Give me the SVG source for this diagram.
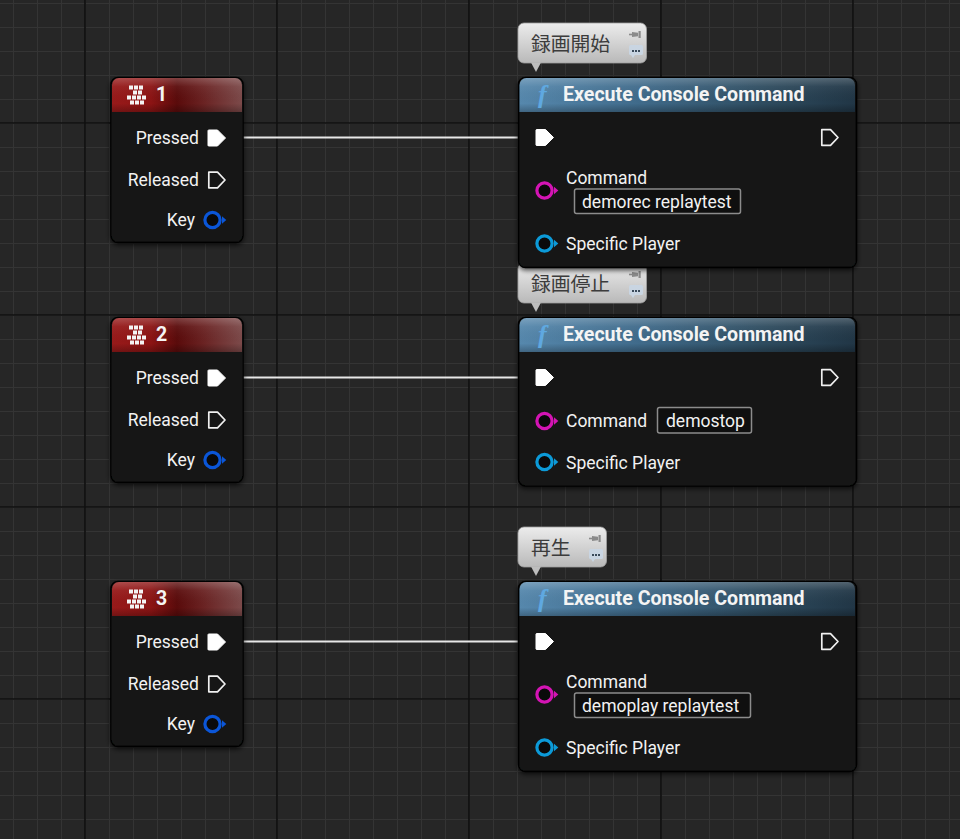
<svg xmlns="http://www.w3.org/2000/svg" xmlns:xlink="http://www.w3.org/1999/xlink" width="960" height="839" viewBox="0 0 960 839">
<style>
.lbl{font-family:Roboto,"Liberation Sans",sans-serif;font-size:17.5px;fill:#f2f2f2}
.ttl{font-family:Roboto,"Liberation Sans",sans-serif;font-size:19.6px;font-weight:bold;fill:#f4f4f4}
.num{font-family:Roboto,"Liberation Sans",sans-serif;font-size:19.5px;font-weight:bold;fill:#f4f4f4}
.cmt{font-family:"Noto Sans CJK JP","Noto Sans",sans-serif;font-size:19.8px;fill:#3c3c3c}
.fic{font-family:"Liberation Serif",serif;font-style:italic;font-weight:bold;font-size:26px;fill:#5fa8e0}
.body{fill:#141615;stroke:#050505;stroke-width:1.5}
.box{fill:#0f0f0f;stroke:#8c8c8c;stroke-width:1.5}
.wire{stroke:#e8e8e8;stroke-width:2;fill:none}
.major{stroke:#101010;stroke-width:1.6}
</style>
<defs>
<pattern id="grid" x="13" y="3" width="24" height="24" patternUnits="userSpaceOnUse">
<rect x="0" y="0" width="24" height="24" fill="#262626"/>
<rect x="0" y="0" width="1" height="24" fill="#343434"/>
<rect x="0" y="0" width="24" height="1" fill="#343434"/>
</pattern>
<linearGradient id="redH" x1="0" y1="0" x2="1" y2="0">
<stop offset="0" stop-color="#981a1a"/>
<stop offset="0.3" stop-color="#8c1414"/>
<stop offset="0.5" stop-color="#5a0b0b"/>
<stop offset="0.7" stop-color="#6a2222"/>
<stop offset="1" stop-color="#7c4a4a"/>
</linearGradient>
<linearGradient id="blueH" x1="0" y1="0" x2="1" y2="0">
<stop offset="0" stop-color="#5688ad"/>
<stop offset="0.35" stop-color="#406b8b"/>
<stop offset="0.75" stop-color="#2d4a5d"/>
<stop offset="1" stop-color="#213646"/>
</linearGradient>
<linearGradient id="gloss" x1="0" y1="0" x2="0" y2="1">
<stop offset="0" stop-color="#ffffff" stop-opacity="0.22"/>
<stop offset="0.25" stop-color="#ffffff" stop-opacity="0.05"/>
<stop offset="0.75" stop-color="#000000" stop-opacity="0"/>
<stop offset="1" stop-color="#000000" stop-opacity="0.25"/>
</linearGradient>
<linearGradient id="cmtG" x1="0" y1="0" x2="0" y2="1">
<stop offset="0" stop-color="#ececec"/>
<stop offset="1" stop-color="#b9b9b9"/>
</linearGradient>
<filter id="sh" x="-10%" y="-10%" width="120%" height="120%">
<feDropShadow dx="0" dy="2" stdDeviation="2.5" flood-color="#000" flood-opacity="0.7"/>
</filter>
<path id="execF" d="M0,-7.5 Q0,-8 1,-8 H9.5 L17.5,0 L9.5,8 H1 Q0,8 0,7.5 Z" fill="#ffffff" stroke="#ffffff" stroke-width="1" stroke-linejoin="round"/>
<path id="execO" d="M0.8,-7.8 H9.5 L17,0 L9.5,7.8 H0.8 Z" fill="none" stroke="#f0f0f0" stroke-width="1.7" stroke-linejoin="round"/>
<g id="dpin">
<circle cx="0" cy="0" r="7.6" fill="#0a0a0a" stroke-width="3.2"/>
<path d="M9.5,-3.8 L13.8,0 L9.5,3.8 Z" stroke="none"/>
</g>
<g id="kicon" fill="#f4f4f4">
<rect x="2" y="0" width="4" height="4"/><rect x="7" y="0" width="4" height="4"/><rect x="12" y="0" width="4" height="4"/>
<rect x="6" y="5" width="4" height="4"/><rect x="11" y="5" width="4" height="4"/>
<rect x="0" y="10" width="4" height="4"/><rect x="5" y="10" width="4" height="4"/><rect x="10" y="10" width="4" height="4"/><rect x="15" y="10" width="4" height="4"/>
<rect x="3" y="15" width="4" height="4"/><rect x="8" y="15" width="4" height="4"/><rect x="13" y="15" width="4" height="4"/>
</g>
<g id="cicons">
<path d="M0,3.5 H3" stroke="#8a8a8a" stroke-width="1.6"/>
<path d="M3,1 L9,1.8 V5.2 L3,6 Z" fill="#8a8a8a"/>
<rect x="9.5" y="0" width="2.2" height="7" fill="#8a8a8a"/>
<rect x="0" y="14" width="14" height="10" rx="1.5" fill="#c9d5e2"/>
<path d="M2,24 L4,27 L6,24 Z" fill="#c9d5e2"/>
<rect x="3" y="19" width="2" height="2" fill="#3a4a5a"/><rect x="6" y="19" width="2" height="2" fill="#3a4a5a"/><rect x="9" y="19" width="2" height="2" fill="#3a4a5a"/>
</g>
</defs>

<rect x="0" y="0" width="960" height="839" fill="url(#grid)"/>
<g id="grid-major">
<path class="major" d="M85,0V839 M277,0V839 M469,0V839 M661,0V839 M853,0V839 M0,123H960 M0,315H960 M0,507H960 M0,699H960"/>
</g>

<g id="connectors">
<path class="wire" d="M226,137.5 H537"/>
<path class="wire" d="M226,377.5 H537"/>
<path class="wire" d="M226,641.5 H537"/>
</g>

<g id="key1">
<rect class="body" x="111" y="77.5" width="132" height="165" rx="7" filter="url(#sh)"/>
<path d="M112,112 V85 a7,7 0 0 1 7,-7 H235 a7,7 0 0 1 7,7 V112 Z" fill="url(#redH)"/>
<path d="M112,112 V85 a7,7 0 0 1 7,-7 H235 a7,7 0 0 1 7,7 V112 Z" fill="url(#gloss)"/>
<use href="#kicon" x="127" y="85.5"/>
<text class="num" x="156" y="101">1</text>
<text class="lbl" x="199" y="143.5" text-anchor="end">Pressed</text>
<use href="#execF" x="208" y="138"/>
<text class="lbl" x="199" y="185.5" text-anchor="end">Released</text>
<use href="#execO" x="208" y="180"/>
<text class="lbl" x="195" y="226" text-anchor="end">Key</text>
<use href="#dpin" x="212.5" y="220" style="stroke:#0b56d8;fill:#0b56d8"/>
</g>
<g id="key2" transform="translate(0,240)">
<rect class="body" x="111" y="77.5" width="132" height="165" rx="7" filter="url(#sh)"/>
<path d="M112,112 V85 a7,7 0 0 1 7,-7 H235 a7,7 0 0 1 7,7 V112 Z" fill="url(#redH)"/>
<path d="M112,112 V85 a7,7 0 0 1 7,-7 H235 a7,7 0 0 1 7,7 V112 Z" fill="url(#gloss)"/>
<use href="#kicon" x="127" y="85.5"/>
<text class="num" x="156" y="101">2</text>
<text class="lbl" x="199" y="143.5" text-anchor="end">Pressed</text>
<use href="#execF" x="208" y="138"/>
<text class="lbl" x="199" y="185.5" text-anchor="end">Released</text>
<use href="#execO" x="208" y="180"/>
<text class="lbl" x="195" y="226" text-anchor="end">Key</text>
<use href="#dpin" x="212.5" y="220" style="stroke:#0b56d8;fill:#0b56d8"/>
</g>
<g id="key3" transform="translate(0,504)">
<rect class="body" x="111" y="77.5" width="132" height="165" rx="7" filter="url(#sh)"/>
<path d="M112,112 V85 a7,7 0 0 1 7,-7 H235 a7,7 0 0 1 7,7 V112 Z" fill="url(#redH)"/>
<path d="M112,112 V85 a7,7 0 0 1 7,-7 H235 a7,7 0 0 1 7,7 V112 Z" fill="url(#gloss)"/>
<use href="#kicon" x="127" y="85.5"/>
<text class="num" x="156" y="101">3</text>
<text class="lbl" x="199" y="143.5" text-anchor="end">Pressed</text>
<use href="#execF" x="208" y="138"/>
<text class="lbl" x="199" y="185.5" text-anchor="end">Released</text>
<use href="#execO" x="208" y="180"/>
<text class="lbl" x="195" y="226" text-anchor="end">Key</text>
<use href="#dpin" x="212.5" y="220" style="stroke:#0b56d8;fill:#0b56d8"/>
</g>

<g id="comment1">
<rect x="518" y="23" width="128.5" height="40" rx="6" fill="url(#cmtG)" stroke="#a0a0a0" stroke-width="0.8"/>
<path d="M531,62.5 L541,62.5 L536,72 Z" fill="#bdbdbd"/>
<text class="cmt" x="531" y="50.5">録画開始</text>
<use href="#cicons" x="629" y="31"/>
</g>
<g id="comment2" transform="translate(0,240)">
<rect x="518" y="23" width="128.5" height="40" rx="6" fill="url(#cmtG)" stroke="#a0a0a0" stroke-width="0.8"/>
<path d="M531,62.5 L541,62.5 L536,72 Z" fill="#bdbdbd"/>
<text class="cmt" x="531" y="50.5">録画停止</text>
<use href="#cicons" x="629" y="31"/>
</g>
<g id="comment3" transform="translate(0,504)">
<rect x="518" y="23" width="88.5" height="40" rx="6" fill="url(#cmtG)" stroke="#a0a0a0" stroke-width="0.8"/>
<path d="M531,62.5 L541,62.5 L536,72 Z" fill="#bdbdbd"/>
<text class="cmt" x="531" y="50.5">再生</text>
<use href="#cicons" x="589" y="31"/>
</g>

<g id="func1">
<rect class="body" x="518.5" y="77.5" width="338" height="190" rx="7" filter="url(#sh)"/>
<path d="M519.5,112 V85 a7,7 0 0 1 7,-7 H848 a7,7 0 0 1 7,7 V112 Z" fill="url(#blueH)"/>
<path d="M519.5,112 V85 a7,7 0 0 1 7,-7 H848 a7,7 0 0 1 7,7 V112 Z" fill="url(#gloss)"/>
<text class="fic" x="538" y="103">f</text>
<text class="ttl" x="563" y="101">Execute Console Command</text>
<use href="#execF" x="536" y="137.5"/>
<use href="#execO" x="821" y="137.5"/>
<text class="lbl" x="566" y="184">Command</text>
<use href="#dpin" x="544.5" y="190.5" style="stroke:#d414b4;fill:#d414b4"/>
<rect class="box" x="574.5" y="189" width="166" height="24.5" rx="2"/>
<text class="lbl" x="582" y="207.5">demorec replaytest</text>
<use href="#dpin" x="544.5" y="243.5" style="stroke:#0c9ad8;fill:#0c9ad8"/>
<text class="lbl" x="566" y="250">Specific Player</text>
</g>
<g id="func2">
<rect class="body" x="518.5" y="317.5" width="338" height="168.5" rx="7" filter="url(#sh)"/>
<path d="M519.5,352 V325 a7,7 0 0 1 7,-7 H848 a7,7 0 0 1 7,7 V352 Z" fill="url(#blueH)"/>
<path d="M519.5,352 V325 a7,7 0 0 1 7,-7 H848 a7,7 0 0 1 7,7 V352 Z" fill="url(#gloss)"/>
<text class="fic" x="538" y="343">f</text>
<text class="ttl" x="563" y="341">Execute Console Command</text>
<use href="#execF" x="536" y="377.5"/>
<use href="#execO" x="821" y="377.5"/>
<use href="#dpin" x="544.5" y="421" style="stroke:#d414b4;fill:#d414b4"/>
<text class="lbl" x="566" y="427">Command</text>
<rect class="box" x="657.5" y="407.5" width="94" height="25.5" rx="2"/>
<text class="lbl" x="666" y="427">demostop</text>
<use href="#dpin" x="544.5" y="462" style="stroke:#0c9ad8;fill:#0c9ad8"/>
<text class="lbl" x="566" y="468.5">Specific Player</text>
</g>
<g id="func3" transform="translate(0,504)">
<rect class="body" x="518.5" y="77.5" width="338" height="190" rx="7" filter="url(#sh)"/>
<path d="M519.5,112 V85 a7,7 0 0 1 7,-7 H848 a7,7 0 0 1 7,7 V112 Z" fill="url(#blueH)"/>
<path d="M519.5,112 V85 a7,7 0 0 1 7,-7 H848 a7,7 0 0 1 7,7 V112 Z" fill="url(#gloss)"/>
<text class="fic" x="538" y="103">f</text>
<text class="ttl" x="563" y="101">Execute Console Command</text>
<use href="#execF" x="536" y="137.5"/>
<use href="#execO" x="821" y="137.5"/>
<text class="lbl" x="566" y="184">Command</text>
<use href="#dpin" x="544.5" y="190.5" style="stroke:#d414b4;fill:#d414b4"/>
<rect class="box" x="574.5" y="189" width="176" height="24.5" rx="2"/>
<text class="lbl" x="582" y="207.5">demoplay replaytest</text>
<use href="#dpin" x="544.5" y="243.5" style="stroke:#0c9ad8;fill:#0c9ad8"/>
<text class="lbl" x="566" y="250">Specific Player</text>
</g>
</svg>
